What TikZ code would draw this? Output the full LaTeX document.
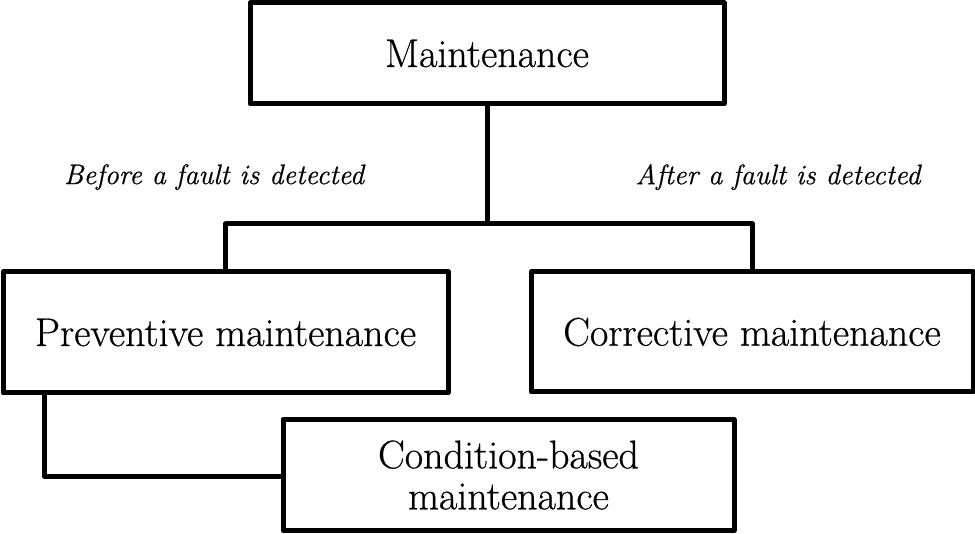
\documentclass[tikz,border=0pt]{standalone}
\usepackage{fontspec}
% slightly heavier Latin Modern for all labels
\newfontfamily\labelfont{Latin Modern Roman}[FakeBold=0.6]
\begin{document}
\begin{tikzpicture}[x=1pt, y=-1pt,
  box/.style={draw=black, line width=5pt, line join=round, inner sep=0pt,
    align=center, font=\labelfont\fontsize{40}{41}\selectfont},
  link/.style={draw=black, line width=5pt, line join=round},
  note/.style={inner sep=0pt, font=\labelfont\itshape\fontsize{28.3}{30}\selectfont}]
  \useasboundingbox (0,0) rectangle (975,534);

  % boxes
  \node[box, minimum width=474pt, minimum height=101pt] (main) at (487,53.5) {Maintenance};
  \node[box, minimum width=445pt, minimum height=121pt] (prev) at (225.5,332.5) {Preventive maintenance};
  \node[box, minimum width=442pt, minimum height=120pt] (corr) at (752,332) {Corrective maintenance};
  \node[box, minimum width=451pt, minimum height=111pt] (cond) at (508.5,475) {Condition-based\\maintenance};

  % side notes
  \node[note] (before) at (214,177) {Before a fault is detected};
  \node[note] (after) at (778,177) {After a fault is detected};

  % tree connectors
  \coordinate (split) at (487,224);
  \draw[link] (main.south) -- (split);
  \draw[link] (prev.north) |- (split) -| (corr.north);
  \draw[link] ([xshift=44pt]prev.south west) |- ([yshift=-1.5pt]cond.west);
\end{tikzpicture}
\end{document}
